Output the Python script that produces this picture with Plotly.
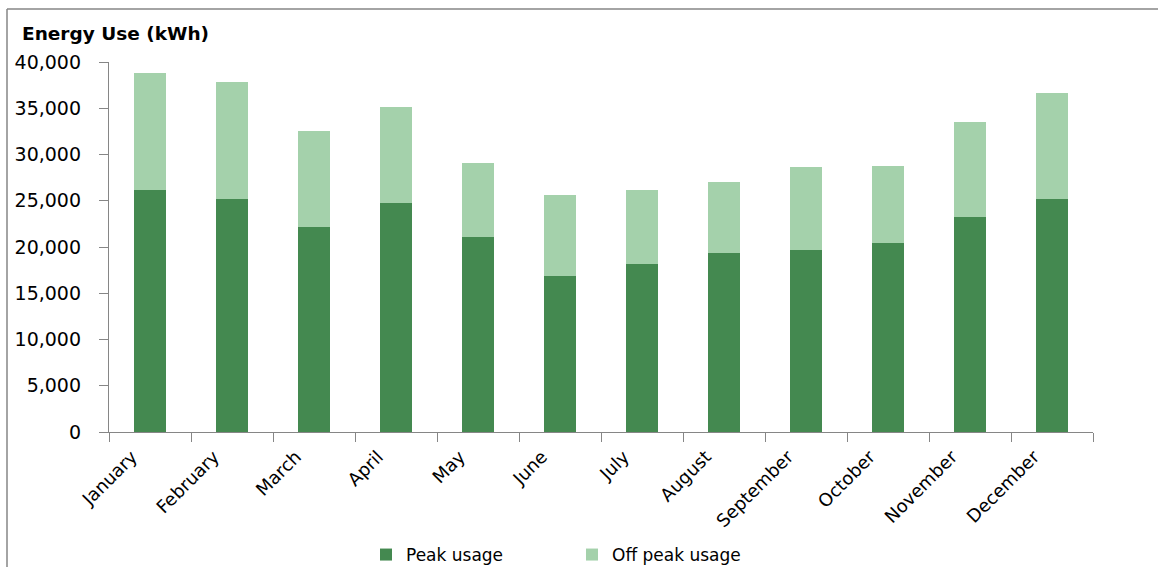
import plotly.graph_objects as go

months = ["January", "February", "March", "April", "May", "June", "July",
          "August", "September", "October", "November", "December"]
peak_usage = [26200, 25240, 22120, 24810, 21040, 16850, 18140, 19320, 19640, 20400, 23200, 25240]
off_peak_usage = [12600, 12600, 10440, 10340, 8080, 8720, 8070, 7750, 9050, 8400, 10330, 11410]
y_ticks = [0, 5000, 10000, 15000, 20000, 25000, 30000, 35000, 40000]

W, H = 1158, 567
L, R, T, B = 109, 1093, 62, 432.5


def px_x(px):
    return (px - L) / (R - L)


def px_y(py):
    return (B - py) / (B - T)


font_family = "'DejaVu Sans', Verdana, sans-serif"
axis_grey = "#868686"

fig = go.Figure()
fig.add_trace(go.Bar(x=months, y=peak_usage, name="Peak usage",
                     marker=dict(color="#448950", line=dict(width=0))))
fig.add_trace(go.Bar(x=months, y=off_peak_usage, name="Off peak usage",
                     marker=dict(color="#A4D1AB", line=dict(width=0))))

fig.update_layout(
    width=W, height=H,
    barmode="stack", bargap=0.61,
    plot_bgcolor="white", paper_bgcolor="white",
    margin=dict(l=L, r=W - R, t=T, b=H - B, autoexpand=False),
    font=dict(family=font_family, color="#000000", size=17),
    showlegend=True,
    legend=dict(orientation="h", xref="container", yref="container",
                x=366 / W, y=1 - 555 / H, xanchor="left", yanchor="middle",
                font=dict(size=17), itemwidth=30, entrywidth=161, traceorder="normal",
                bgcolor="rgba(0,0,0,0)"),
    xaxis=dict(showline=True, linecolor=axis_grey, linewidth=1.3,
               ticks="outside", ticklen=9, tickcolor=axis_grey, tickwidth=1.3,
               tickson="boundaries", tickangle=-45, showgrid=False,
               tickfont=dict(size=18), automargin=False,
               ticklabelstandoff=6, ticklabelshift=-18),
    yaxis=dict(range=[0, 40000], tickvals=y_ticks,
               ticktext=[f"{v:,}" for v in y_ticks],
               showline=True, linecolor=axis_grey, linewidth=1.3,
               ticks="outside", ticklen=9, tickcolor=axis_grey, tickwidth=1.3,
               showgrid=False, zeroline=False, tickfont=dict(size=19),
               ticklabelstandoff=14, automargin=False),
    annotations=[dict(text="<b>Energy Use (kWh)</b>", xref="paper", yref="paper",
                      x=px_x(20), y=px_y(33), xanchor="left", yanchor="middle",
                      showarrow=False, font=dict(size=18.5, family=font_family))],
    shapes=[
        dict(type="line", xref="paper", yref="paper", x0=px_x(7), x1=px_x(W + 5),
             y0=px_y(9), y1=px_y(9), line=dict(color=axis_grey, width=1.5)),
        dict(type="line", xref="paper", yref="paper", x0=px_x(7), x1=px_x(7),
             y0=px_y(9), y1=px_y(H + 5), line=dict(color=axis_grey, width=1.5)),
    ],
)

fig.write_html("out.html")
